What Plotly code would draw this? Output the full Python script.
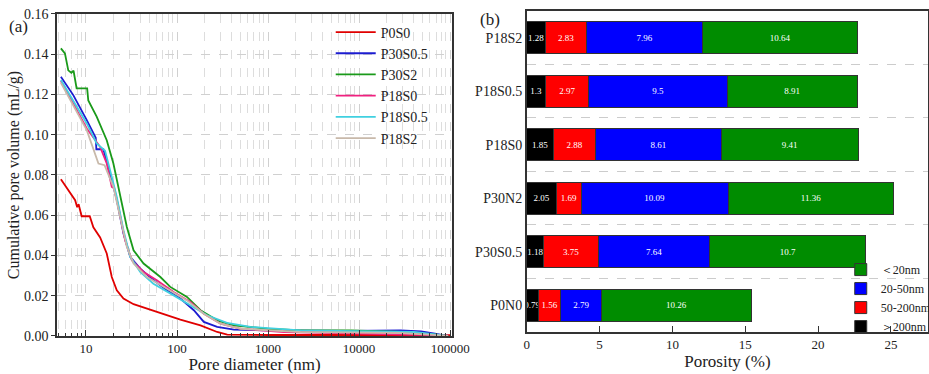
import plotly.graph_objects as go

FONT = "Liberation Serif"

# ---------------- Panel (a) data: cumulative pore volume ----------------
p0s0_d = [5.3, 7.6, 8.0, 8.3, 8.96, 11.0, 12.05, 14.3, 16.9, 19.2, 21.8, 25.8, 33.3, 50.8, 77.6, 108.8, 181, 276, 356, 1000, 10000, 100000]
p0s0_v = [0.0779, 0.0675, 0.064, 0.0655, 0.0595, 0.0595, 0.054, 0.049, 0.041, 0.0293, 0.0227, 0.0186, 0.0158, 0.0131, 0.0103, 0.0081, 0.0053, 0.002, 0.0007, 0.0005, 0.0005, 0.0004]

p30s05_d = [5.3, 7.25, 10.2, 12.8, 13.0, 15.5, 18.4, 21.8, 25.8, 30.6, 39.4, 55.3, 77.6, 108.8, 153, 197, 276, 421, 1000, 8100, 28700, 48000, 68000, 92000]
p30s05_v = [0.1288, 0.1197, 0.1073, 0.0985, 0.0928, 0.0928, 0.0807, 0.0675, 0.0509, 0.0393, 0.0335, 0.0277, 0.0227, 0.0186, 0.0128, 0.0070, 0.0045, 0.0032, 0.0028, 0.0025, 0.0028, 0.0023, 0.0012, 0.0001]

p30s2_d = [5.3, 5.87, 6.39, 6.9, 7.3, 7.89, 10.3, 10.6, 13.1, 16.9, 20.0, 23.7, 28.1, 33.3, 42.9, 65.6, 84.3, 128.6, 181, 276, 421, 980, 2270, 8100, 28700, 68000, 95000]
p30s2_v = [0.1429, 0.1404, 0.1320, 0.1308, 0.1318, 0.1230, 0.1230, 0.1170, 0.1090, 0.0973, 0.0857, 0.0708, 0.0542, 0.0426, 0.0360, 0.0293, 0.0244, 0.0194, 0.0128, 0.0078, 0.0053, 0.0036, 0.0028, 0.0028, 0.0020, 0.0007, 0.0001]

p18s0_d = [5.3, 10.2, 14.3, 16.9, 19.2, 20.4, 22.7, 26.9, 31.9, 42.9, 60.0, 91.7, 140, 197, 300, 500, 1500, 12400, 95000]
p18s0_v = [0.1267, 0.1031, 0.0940, 0.0857, 0.0741, 0.0735, 0.0642, 0.0476, 0.0376, 0.0318, 0.0277, 0.0219, 0.0169, 0.0111, 0.0061, 0.0036, 0.0020, 0.0012, 0.0003]

p18s05_d = [5.3, 10.2, 13.1, 15.5, 16.2, 18.4, 21.8, 25.8, 30.6, 39.4, 55.0, 91.7, 140, 214, 354, 640, 2270, 12400, 40000, 95000]
p18s05_v = [0.1272, 0.1056, 0.0957, 0.0924, 0.0920, 0.0824, 0.0691, 0.0526, 0.0393, 0.0318, 0.0260, 0.0202, 0.0153, 0.0103, 0.0065, 0.0045, 0.0028, 0.0023, 0.0020, 0.0001]

p18s2_d = [5.3, 10.2, 13.7, 16.0, 20.0, 23.7, 28.1, 33.3, 46.7, 77.6, 128.6, 197, 300, 500, 2270, 28700, 95000]
p18s2_v = [0.1258, 0.1023, 0.0857, 0.0849, 0.0741, 0.0592, 0.0443, 0.0360, 0.0293, 0.0235, 0.0177, 0.0111, 0.0061, 0.0036, 0.0020, 0.0015, 0.0001]

curve_names = ["P0S0", "P30S0.5", "P30S2", "P18S0", "P18S0.5", "P18S2"]
curve_colors = ["#e00000", "#1c1cd0", "#1a9a1a", "#f0207f", "#40d0e0", "#c8b9aa"]
curve_data = [(p0s0_d, p0s0_v), (p30s05_d, p30s05_v), (p30s2_d, p30s2_v),
              (p18s0_d, p18s0_v), (p18s05_d, p18s05_v), (p18s2_d, p18s2_v)]

# ---------------- Panel (b) data: porosity by pore size ----------------
samples = ["P18S2", "P18S0.5", "P18S0", "P30N2", "P30S0.5", "P0N0"]
gt200 = [1.28, 1.3, 1.85, 2.05, 1.18, 0.79]
r50_200 = [2.83, 2.97, 2.88, 1.69, 3.75, 1.56]
r20_50 = [7.96, 9.5, 8.61, 10.09, 7.64, 2.79]
lt20 = [10.64, 8.91, 9.41, 11.36, 10.7, 10.26]
bar_names = ["＞200nm", "50-200nm", "20-50nm", "＜20nm"]
bar_colors = ["#000000", "#ff0000", "#0000ff", "#008c00"]
bar_values = [gt200, r50_200, r20_50, lt20]

fig = go.Figure()

for name, color, (d, v) in zip(curve_names, curve_colors, curve_data):
    fig.add_trace(go.Scatter(x=d, y=v, mode="lines", name=name,
                             line=dict(color=color, width=1.8),
                             xaxis="x", yaxis="y", legend="legend"))

ypos = list(range(len(samples)))[::-1]  # P18S2 at top
for name, color, vals in zip(bar_names, bar_colors, bar_values):
    fig.add_trace(go.Bar(y=ypos, x=vals, orientation="h", name=name,
                         marker=dict(color=color, line=dict(color="#333333", width=1)),
                         width=0.6, text=[str(v) for v in vals],
                         textposition="inside", insidetextanchor="middle",
                         textangle=0, constraintext="none", cliponaxis=False,
                         textfont=dict(color="white", size=9, family=FONT),
                         xaxis="x2", yaxis="y2", legend="legend2"))

axis_line = dict(showline=True, linecolor="#333333", linewidth=1.5, mirror=True)

fig.update_layout(
    width=929, height=374,
    margin=dict(l=0, r=0, t=0, b=0, autoexpand=False),
    paper_bgcolor="white", plot_bgcolor="white",
    font=dict(family=FONT, color="#222222", size=14),
    barmode="stack",
    xaxis=dict(type="log", domain=[0.0614, 0.4865], range=[0.682, 5.02],
               tickmode="linear", tick0=0, dtick=1, tickformat="d",
               tickfont=dict(size=13),
               ticks="inside", ticklen=6, tickcolor="#333333",
               minor=dict(dtick="D1", ticks="inside", ticklen=3, tickcolor="#333333",
                          showgrid=True, gridcolor="#dddddd", griddash="dash", gridwidth=1),
               showgrid=True, gridcolor="#d0d0d0", griddash="dash",
               title=dict(text="Pore diameter (nm)", font=dict(size=17), standoff=2),
               anchor="y", **axis_line),
    yaxis=dict(domain=[0.1016, 0.9626], range=[0, 0.16], dtick=0.02, tickformat=".2f",
               ticks="outside", ticklen=4, tickcolor="#333333",
               showgrid=True, gridcolor="#d0d0d0", griddash="dash",
               zeroline=False,
               title=dict(text="Cumulative pore volume (mL/g)", font=dict(size=16), standoff=0),
               anchor="x", **axis_line),
    xaxis2=dict(domain=[0.567, 0.999], range=[0, 27.55], tickvals=[0, 5, 10, 15, 20, 25],
                tickfont=dict(size=13),
                ticks="inside", ticklen=6, tickcolor="#333333", showgrid=False, zeroline=False,
                title=dict(text="Porosity (%)", font=dict(size=17), standoff=2),
                anchor="y2", **axis_line),
    yaxis2=dict(domain=[0.1123, 0.9706], range=[-0.5, 5.5], tickvals=ypos, ticktext=samples,
                tickfont=dict(size=14), ticks="", showgrid=False, zeroline=False,
                minor=dict(tick0=0.5, dtick=1, showgrid=True, gridcolor="#cccccc",
                           griddash="dash", ticks=""),
                anchor="x2", **axis_line),
    legend=dict(x=0.356, y=0.956, xanchor="left", yanchor="top", bgcolor="rgba(0,0,0,0)",
                font=dict(size=14), tracegroupgap=0, itemwidth=40),
    legend2=dict(x=0.905, y=0.318, xanchor="left", yanchor="top", bgcolor="rgba(255,255,255,0)",
                 font=dict(size=12), traceorder="reversed", itemwidth=30,
                 borderwidth=0),
    annotations=[
        dict(text="(a)", x=0.008, y=0.928, xref="paper", yref="paper", showarrow=False,
             xanchor="left", yanchor="middle", font=dict(size=17)),
        dict(text="(b)", x=0.515, y=0.947, xref="paper", yref="paper", showarrow=False,
             xanchor="left", yanchor="middle", font=dict(size=17)),
    ],
    showlegend=True,
)

fig.write_html("out.html")
